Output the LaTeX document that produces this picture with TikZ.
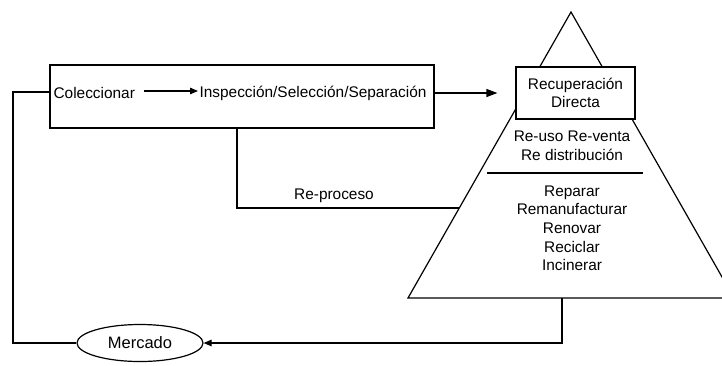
\documentclass[tikz,border=0pt]{standalone}
\usepackage{fontspec}
\setmainfont{Liberation Sans}
\usetikzlibrary{arrows.meta,shapes.geometric,calc}
\begin{document}
\begin{tikzpicture}[x=1pt,y=-1pt,
  line width=1.2pt,
  txt/.style={font=\fontsize{15.4}{18.6}\selectfont, inner sep=0pt, align=center},
  boxed/.style={draw, fill=white, rectangle},
  arr/.style={-{Triangle[length=8pt,width=6.5pt]}},
  bigarr/.style={-{Triangle[length=11pt,width=8pt]}},
  wire/.style={line width=1.2pt}]
\useasboundingbox (0,0) rectangle (722,365);
\begin{scope}
\clip (0,0) rectangle (722,365);
% pyramid
\coordinate (apex) at (571,12);
\coordinate (bl) at (408,298);
\coordinate (br) at (734,298);
\draw[wire] (apex) -- (bl) -- (br) -- cycle;
\end{scope}
% main box
\node[boxed, minimum width=384pt, minimum height=63pt, inner sep=0pt] (box) at (242,96.5) {};
\node[txt, anchor=west] (col) at (53,93) {Coleccionar};
\node[txt, anchor=west] (insp) at (199,93) {Inspección/Selección/Separación};
\draw[wire, arr] (col.east) ++(8pt,2pt) coordinate (ca) -- ($(insp.west)+(-1pt,2pt)$) coordinate (cb);
% recuperacion box
\node[boxed, txt, minimum width=119pt, minimum height=52pt] (rec) at (575.5,93) {Recuperación\\Directa};
\draw[wire, bigarr, shorten >=18pt] (box.east |- rec.west) -- (rec.west);
% inner texts
\node[txt] (reuso) at (572,146) {Re-uso Re-venta\\Re distribución};
\coordinate (s1) at (487,173);
\coordinate (s2) at (643,173);
\draw[wire] (s1) -- (s2);
\node[txt, anchor=north] (rep) at (572,185) {Reparar\\Remanufacturar\\Renovar\\Reciclar\\Incinerar};
% re-proceso
\coordinate (rp1) at (237,128);
\coordinate (rp2) at (237,208);
\coordinate (rp3) at (459,208);
\draw[wire] (rp1) -- (rp2) -- (rp3);
\node[txt] (reproc) at (334,196) {Re-proceso};
% mercado
\node[draw, ellipse, txt, font=\fontsize{16.5}{19}\selectfont, minimum width=126pt, minimum height=37pt, fill=white] (merc) at (140,343) {Mercado};
\coordinate (l1) at (13,92);
\coordinate (l2) at (13,343);
\draw[wire] (box.west |- l1) -- (l1) -- (l2) -- (merc.west);
\coordinate (r1) at (562,298);
\coordinate (r2) at (562,343);
\draw[wire, arr] (r1) -- (r2) -- (merc.east);
\end{tikzpicture}
\end{document}
